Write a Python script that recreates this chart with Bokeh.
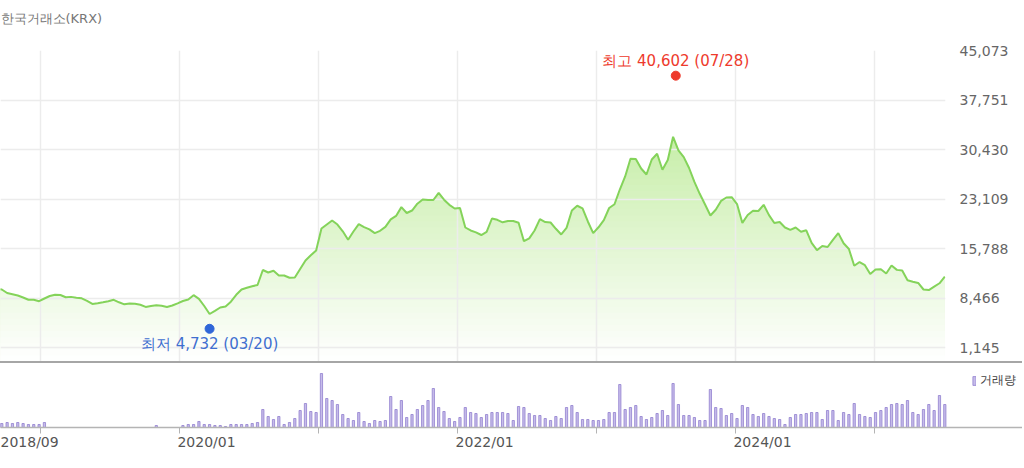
import numpy as np
import pandas as pd
from bokeh.plotting import figure
from bokeh.models import (FixedTicker, NumeralTickFormatter, Range1d, Div, Legend,
                          LegendItem, ColumnDataSource, DatetimeAxis)
from bokeh.layouts import column
from bokeh.embed import file_html
from bokeh.resources import INLINE
from bokeh.core.properties import value
from bokeh.transform import dodge

# ---------------- data ----------------
start_date = "2018-09-07"          # first (bi-weekly) observation
price = [
    9910, 9760, 9240, 9060, 8870, 8580, 8240, 8240, 8030, 8430,
    8800, 8990, 8950, 8620, 8670, 8550, 8460, 8090, 7630, 7730,
    7870, 8030, 8240, 7870, 7570, 7700, 7650, 7500, 7190, 7320,
    7420, 7350, 7170, 7390, 7720, 8060, 8280, 8920, 8380, 7320,
    6140, 6610, 7100, 7250, 7960, 8980, 9760, 10010, 10250, 10420,
    12640, 12270, 12520, 11830, 11830, 11490, 11530, 12790, 14040, 14810,
    15520, 18770, 19360, 19950, 19360, 18360, 17100, 18330, 19420, 18980,
    18650, 18090, 18430, 19010, 20120, 20630, 21930, 21060, 21430, 22440,
    23060, 22980, 22980, 24030, 23030, 22270, 21730, 21790, 18920, 18480,
    18200, 17810, 18270, 20250, 20060, 19690, 19870, 19880, 19630, 16900,
    17320, 18480, 20150, 19730, 19660, 18730, 17890, 18860, 21430, 22130,
    21760, 19810, 18090, 18950, 20010, 21800, 22360, 24530, 26460, 29070,
    29040, 27640, 26750, 28970, 29810, 27450, 28890, 32320, 30300, 29310,
    27710, 25660, 23900, 22320, 20690, 21540, 22850, 23350, 23400, 22390,
    19600, 20770, 21400, 21360, 22270, 20750, 19580, 19730, 18920, 18580,
    18920, 18300, 18510, 16640, 15570, 16190, 16040, 17100, 18090, 16590,
    15740, 13260, 13820, 13350, 12050, 12710, 12740, 12120, 13310, 12660,
    12570, 11120, 10910, 10730, 9760, 9680, 10190, 10680, 11650,
]
volume = [
    40, 40, 50, 40, 50, 40, 30, 30, 30, 50,
    0, 0, 0, 0, 0, 0, 0, 0, 0, 0,
    0, 0, 0, 0, 0, 0, 0, 0, 0, 0,
    20, 0, 0, 0, 0, 20, 30, 30, 60, 30,
    30, 20, 20, 10, 30, 30, 30, 30, 40, 50,
    180, 110, 80, 110, 30, 50, 90, 170, 240, 160,
    150, 540, 290, 270, 230, 130, 90, 70, 150, 60,
    40, 70, 60, 70, 310, 180, 270, 100, 130, 180,
    220, 270, 390, 200, 160, 90, 60, 100, 200, 150,
    140, 100, 130, 150, 150, 150, 140, 70, 210, 200,
    140, 120, 120, 90, 70, 110, 90, 200, 220, 150,
    80, 80, 70, 70, 80, 150, 150, 430, 180, 200,
    220, 110, 80, 100, 140, 170, 120, 440, 230, 120,
    120, 100, 70, 70, 380, 200, 190, 120, 140, 90,
    220, 200, 130, 110, 140, 110, 90, 80, 30, 100,
    130, 130, 140, 150, 150, 80, 170, 170, 70, 150,
    130, 240, 130, 110, 100, 150, 170, 200, 230, 240,
    230, 270, 150, 130, 180, 230, 170, 320, 230,
]
price_ticks = [1145, 8466, 15788, 23109, 30430, 37751, 45073]
year_ticks = ["2019-01-01", "2020-01-01", "2021-01-01", "2022-01-01",
              "2023-01-01", "2024-01-01", "2025-01-01"]
year_labels = ["", "2020/01", "", "2022/01", "", "2024/01", ""]
first_label = "2018/09"
max_date, max_value = "2023-07-28", 40602
min_date, min_value = "2020-03-20", 4732
title_text = "한국거래소(KRX)"
legend_text = "거래량"

dates = pd.date_range(start_date, periods=len(price), freq="14D")

# ---------------- layout constants ----------------
origin = pd.Timestamp("2020-01-01")
day = pd.Timedelta(days=1)
px_per_day = 0.38056
x_start = origin - 470.4 * day
x_end_price = origin + 2012.8 * day
x_end_vol = origin + 2215.2 * day
y_bottom, y_top = -879, 45073

def ms(t):
    return float(pd.Timestamp(t).value // 10**6)

year_ms = [ms(t) for t in year_ticks]

# ---------------- price figure ----------------
p = figure(x_axis_type="datetime", x_axis_location=None, y_axis_location="right",
           x_range=Range1d(x_start, x_end_price), y_range=Range1d(y_bottom, y_top),
           frame_width=945, frame_height=311,
           min_border_left=0, min_border_top=50, min_border_bottom=0, min_border_right=8,
           output_backend="svg", toolbar_location=None)
p.outline_line_color = None
p.background_fill_color = "white"
p.border_fill_color = "white"

# the empty second line lifts the one-line title higher above the frame
p.title.text = title_text + "\n"
p.title.align = "left"
p.title.vertical_align = "top"
p.title.text_font = "DejaVu Sans"
p.title.text_font_size = "13px"
p.title.text_font_style = "normal"
p.title.text_color = "#777777"
p.title.standoff = 16

p.xgrid.ticker = FixedTicker(ticks=year_ms)
p.ygrid.ticker = FixedTicker(ticks=price_ticks)
for g in (p.xgrid, p.ygrid):
    g.grid_line_color = "#ececec"
    g.grid_line_width = 1.5

ax = p.yaxis[0]
ax.ticker = FixedTicker(ticks=price_ticks)
ax.formatter = NumeralTickFormatter(format="0,0")
ax.axis_line_color = None
ax.major_tick_line_color = None
ax.minor_tick_line_color = None
ax.major_label_text_font = "DejaVu Sans"
ax.major_label_text_font_size = "14px"
ax.major_label_text_color = "#666666"
ax.major_label_standoff = 8

# vertical gradient fill made of stacked layers
price_arr = np.array(price, dtype=float)
top_rgb = np.array([178, 231, 136])
step = 900.0
n_layers = int(np.ceil((price_arr.max() - y_bottom) / step)) + 1
for k in range(n_layers - 1, -1, -1):
    hi = y_bottom + (k + 1) * step
    mid = y_bottom + (k + 0.5) * step
    t = (mid - y_bottom) / (y_top - y_bottom)
    rgb = (255 * (1 - t) + top_rgb * t).round().astype(int)
    col = "#%02x%02x%02x" % tuple(rgb)
    p.varea(x=dates, y1=y_bottom, y2=np.minimum(price_arr, hi),
            fill_color=col, level="image")

p.line(dates, price, line_color="#84d35a", line_width=2)

src_max = ColumnDataSource(dict(x=[pd.Timestamp(max_date)], y=[max_value],
                                t=[f"최고 {max_value:,} ({max_date[5:7]}/{max_date[8:10]})"]))
src_min = ColumnDataSource(dict(x=[pd.Timestamp(min_date)], y=[min_value],
                                t=[f"최저 {min_value:,} ({min_date[5:7]}/{min_date[8:10]})"]))
p.scatter(x="x", y=dodge("y", 750), source=src_max, size=9,
          fill_color="#ee3a2c", line_color="#ee3a2c")
p.scatter(x="x", y=dodge("y", -780), source=src_min, size=9,
          fill_color="#2f66d8", line_color="#2f66d8")
p.text(x="x", y=dodge("y", 750), text="t", source=src_max, y_offset=-15,
       text_align="center", text_baseline="middle", text_color="#ee3a2c",
       text_font=value("DejaVu Sans"), text_font_size="15px")
p.text(x="x", y=dodge("y", -780), text="t", source=src_min, y_offset=15,
       text_align="center", text_baseline="middle", text_color="#3f6fd0",
       text_font=value("DejaVu Sans"), text_font_size="15px")

# ---------------- separator ----------------
sep = Div(width=1022, height=2, margin=(0, 0, 0, 0),
          styles={"background-color": "#a6a6a6"})

# ---------------- volume figure ----------------
v = figure(x_axis_type="datetime", y_axis_location=None,
           x_range=Range1d(x_start, x_end_vol), y_range=Range1d(0, 610),
           frame_width=1022, frame_height=61,
           min_border_left=0, min_border_right=0, min_border_top=3, min_border_bottom=0,
           output_backend="svg", toolbar_location=None)
v.outline_line_color = None
v.xgrid.visible = False
v.ygrid.visible = False

# axis 1: line + tick marks only
vax = v.xaxis[0]
vax.ticker = FixedTicker(ticks=year_ms)
vax.major_label_overrides = {m: "" for m in year_ms}
vax.major_label_text_font_size = "1px"
vax.major_label_standoff = 0
vax.axis_line_color = "#b4b4b4"
vax.axis_line_width = 1.5
vax.major_tick_line_color = "#b4b4b4"
vax.major_tick_in = 0
vax.major_tick_out = 6
vax.minor_tick_line_color = None

# axis 2: left-aligned date labels (centre shifted right by half a label width)
half_label_days = 27 / px_per_day
label_ms = [ms(x_start + (29 / px_per_day) * day)]
label_txt = [first_label]
for t, lab in zip(year_ticks, year_labels):
    if lab:
        label_ms.append(ms(pd.Timestamp(t) + half_label_days * day))
        label_txt.append(lab)
lax = DatetimeAxis(ticker=FixedTicker(ticks=label_ms),
                   major_label_overrides=dict(zip(label_ms, label_txt)),
                   axis_line_color=None, major_tick_line_color=None,
                   minor_tick_line_color=None, major_tick_in=0, major_tick_out=0,
                   major_label_standoff=0,
                   major_label_text_font="DejaVu Sans",
                   major_label_text_font_size="14px",
                   major_label_text_color="#555555")
v.add_layout(lax, "below")

bar_width = 14 * 0.42 * 24 * 3600 * 1000
bars = v.vbar(x=dates, top=volume, width=bar_width,
              fill_color="#c6bcea", line_color="#9280cf", line_width=0.8)

leg = Legend(items=[LegendItem(label=legend_text, renderers=[bars])],
             location="top_right", orientation="horizontal",
             glyph_width=4, glyph_height=11, label_standoff=4,
             label_text_font_size="12px", label_text_color="#444444",
             label_text_font="DejaVu Sans",
             padding=4, margin=6, border_line_color=None, background_fill_alpha=0)
v.add_layout(leg)

layout = column(p, sep, v, spacing=0)
open("out.html", "w").write(file_html(layout, INLINE))
